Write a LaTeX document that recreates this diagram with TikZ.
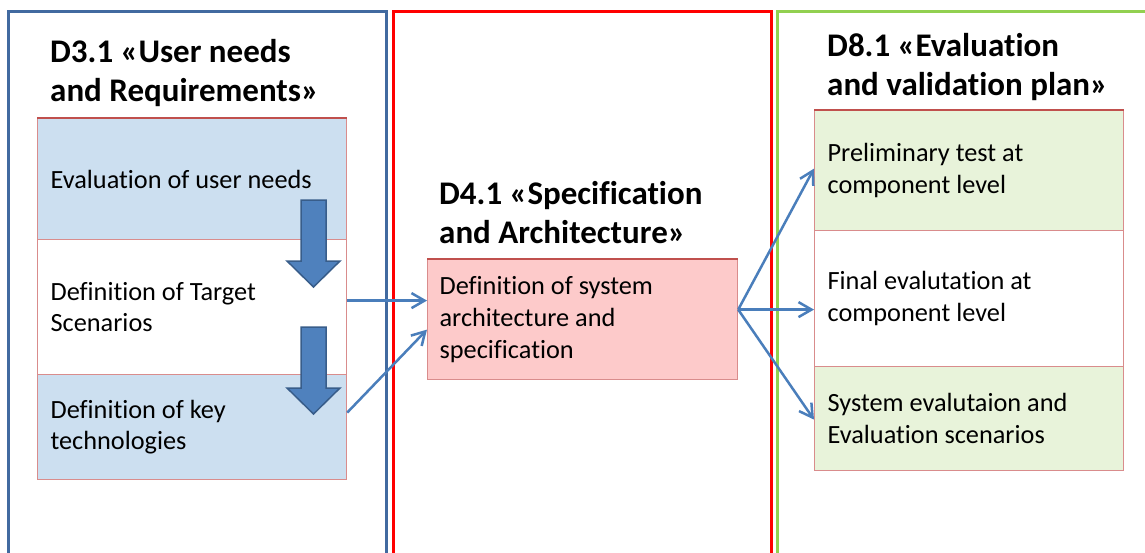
\documentclass[tikz,border=0pt]{standalone}
\usepackage{fontspec}
\setmainfont{Carlito}[Ligatures=NoCommon]
\usetikzlibrary{arrows.meta}

\definecolor{frameblue}{RGB}{65,106,160}
\definecolor{framered}{RGB}{255,0,0}
\definecolor{framegreen}{RGB}{146,208,80}
\definecolor{boxline}{RGB}{217,140,140}
\definecolor{boxtop}{RGB}{192,80,77}
\definecolor{fillblue}{RGB}{204,223,240}
\definecolor{fillpink}{RGB}{253,202,202}
\definecolor{fillgreen}{RGB}{232,243,218}
\definecolor{arrowblue}{RGB}{79,129,189}
\definecolor{arrowedge}{RGB}{56,93,138}
\definecolor{linkblue}{RGB}{74,126,187}

\tikzset{
  deliv/.style={font=\fontsize{33}{38.5}\selectfont\bfseries, align=flush left, anchor=base west, inner sep=0pt},
  task/.style={draw=boxline, line width=1.2pt, anchor=north west, minimum width=309pt, text width=283pt, inner xsep=13pt, align=flush left, font=\fontsize{26.3}{31.7}\selectfont},
  link/.style={draw=linkblue, line width=2.5pt, -{Straight Barb[length=13pt,width=15pt]}},
  flow/.style={fill=arrowblue, draw=arrowedge, line width=1.5pt},
}

\begin{document}
\begin{tikzpicture}[x=1pt, y=-1pt]

            % Cadre et fond
            \useasboundingbox (0,0) rectangle (1145,552);
            \fill[white] (0,0) rectangle (1145,552);
            \clip (0,0) rectangle (1145,552);

            % Colonnes des livrables
            \draw[frameblue, line width=3pt] (8,11) rectangle (386,600);
            \draw[framered, line width=3pt] (393,11) rectangle (771,600);
            \draw[framegreen, line width=3pt] (777,11) rectangle (1200,600);

            % Titres des livrables (ancre sur la dernière ligne)
            \node[deliv] (d31) at (50,101) {D3.1 «User needs\\and Requirements»};
            \node[deliv] (d41) at (439,243) {D4.1 «Specification\\and Architecture»};
            \node[deliv] (d81) at (827,95) {D8.1 «Evaluation\\and validation plan»};

            % Tâches de D3.1
            \node[task, fill=fillblue, minimum height=121pt] (needs) at (37,118) {Evaluation of user needs};
            \node[task, fill=white, minimum height=135pt] (scen) at (37,239) {Definition of Target\\Scenarios};
            \node[task, fill=fillblue, minimum height=105pt] (tech) at (37,374) {Definition of key\\technologies};

            % Tâche de D4.1
            \node[task, fill=fillpink, minimum width=310pt, text width=286pt, inner xsep=12pt, minimum height=120pt] (arch) at (427,259) {Definition of system\\architecture and\\specification};

            % Tâches de D8.1
            \node[task, fill=fillgreen, minimum height=120pt] (eval1) at (814,110) {Preliminary test at\\component level};
            \node[task, fill=white, minimum height=136pt] (eval2) at (814,230) {Final evalutation at\\component level};
            \node[task, fill=fillgreen, minimum height=104pt] (eval3) at (814,366) {System evalutaion and\\Evaluation scenarios};

            % Bords supérieurs foncés
            \foreach \b in {needs, arch, eval1} {
                \draw[boxtop, line width=2pt] (\b.north west) -- (\b.north east);
            }

            % Grosses flèches vers le bas
            \foreach \t in {200, 327} {
                \filldraw[flow] (301,\t) -- (326,\t) -- (326,\t+61) -- (340,\t+61) -- (313.5,\t+87)
                    -- (287,\t+61) -- (301,\t+61) -- cycle;
            }

            % Liens vers D4.1
            \draw[link] ([yshift=6.5pt]scen.east) -- ([yshift=19pt]arch.west);
            \draw[link] ([yshift=14.5pt]tech.east) -- ([yshift=-10pt]arch.west);

            % Liens vers D8.1
            \foreach \t/\s in {eval1/2, eval2/-11, eval3/-1} {
                \draw[link] ([yshift=10pt]arch.east) -- ([yshift=\s pt]\t.west);
            }

            \end{tikzpicture}
\end{document}
